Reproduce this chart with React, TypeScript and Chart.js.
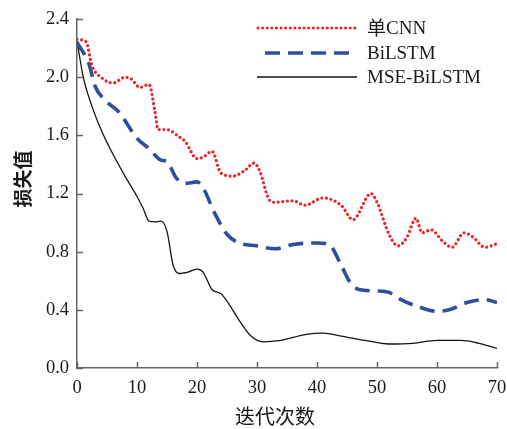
import React, { useEffect, useRef } from "react";
import { Chart, registerables } from "chart.js";

Chart.register(...registerables);

// Iterations and loss values
const cnnIter = [0, 1.5, 2.5, 4, 6, 8, 9, 10.5, 12, 13, 13.5, 15, 17, 18, 20, 21, 22.5, 24, 26, 28, 29.5, 30.5, 32, 33, 36, 38, 41, 44, 46, 49, 50, 52, 53.5, 55, 56.5, 57.5, 59, 61, 62.5, 64.5, 66, 68, 70];
const cnnLoss = [2.26, 2.245, 2.08, 2.0, 1.96, 2.0, 1.99, 1.93, 1.95, 1.76, 1.64, 1.64, 1.59, 1.56, 1.44, 1.45, 1.49, 1.34, 1.32, 1.36, 1.41, 1.35, 1.16, 1.14, 1.15, 1.12, 1.17, 1.12, 1.02, 1.2, 1.14, 0.92, 0.84, 0.9, 1.03, 0.93, 0.95, 0.87, 0.83, 0.93, 0.9, 0.83, 0.855];

const bilstmIter = [0, 2, 3, 5, 7, 10, 12, 14, 15, 16.5, 18, 20, 21, 23, 25, 27, 30, 33, 36, 40, 42, 44, 45.5, 47, 50, 52, 54, 57, 60, 62, 65, 68, 70];
const bilstmLoss = [2.24, 2.09, 1.94, 1.83, 1.76, 1.58, 1.51, 1.43, 1.42, 1.31, 1.27, 1.28, 1.24, 1.06, 0.92, 0.86, 0.84, 0.82, 0.85, 0.86, 0.85, 0.71, 0.59, 0.54, 0.53, 0.52, 0.47, 0.42, 0.39, 0.4, 0.45, 0.47, 0.45];

const mseIter = [0, 1, 2, 4, 6, 8, 10, 11, 12, 13, 14, 15, 16, 17, 18.5, 20, 21, 22.5, 24, 25, 27, 29, 31, 34, 38, 41, 44, 48, 52, 56, 60, 64, 67, 70];
const mseLoss = [2.25, 2.01, 1.86, 1.64, 1.47, 1.32, 1.18, 1.1, 1.01, 1.005, 1.01, 0.94, 0.71, 0.65, 0.66, 0.68, 0.66, 0.54, 0.51, 0.46, 0.33, 0.22, 0.18, 0.19, 0.23, 0.24, 0.22, 0.19, 0.165, 0.17, 0.19, 0.19, 0.17, 0.135];

const seriesNames = ["单CNN", "BiLSTM", "MSE-BiLSTM"];
const xTicks = [0, 10, 20, 30, 40, 50, 60, 70];
const yTicks = [0, 0.4, 0.8, 1.2, 1.6, 2.0, 2.4];

const xTitle = "迭代次数";
const yTitle = "损失值";

const RED = "#e52a2f";
const BLUE = "#2f4ea0";
const BLACK = "#151515";

const serif = "'Liberation Serif', 'Times New Roman', serif";
const cjk = "'Noto Sans CJK SC', sans-serif";

const toPoints = (xs: number[], ys: number[]) => xs.map((x, i) => ({ x, y: ys[i] }));

export default function App() {
  const ref = useRef<HTMLCanvasElement | null>(null);

  useEffect(() => {
    if (!ref.current) return;

    const styles = [
      { color: RED, width: 3.2, dash: [0.01, 4.6], cap: "round" as CanvasLineCap },
      { color: BLUE, width: 3.6, dash: [15, 8], cap: "butt" as CanvasLineCap },
      { color: BLACK, width: 1.3, dash: [] as number[], cap: "butt" as CanvasLineCap },
    ];

    const extras = {
      id: "extras",
      afterDatasetsDraw(chart: any) {
        const { ctx, chartArea, scales } = chart;
        const xs = scales.x;
        const ys = scales.y;
        ctx.save();
        // inward tick marks
        ctx.strokeStyle = "#666";
        ctx.lineWidth = 1.5;
        ctx.beginPath();
        xTicks.forEach((v) => {
          const px = Math.round(xs.getPixelForValue(v)) + 0.5;
          ctx.moveTo(px, chartArea.bottom);
          ctx.lineTo(px, chartArea.bottom - 6);
        });
        yTicks.forEach((v) => {
          const py = Math.round(ys.getPixelForValue(v)) + 0.5;
          ctx.moveTo(chartArea.left, py);
          ctx.lineTo(chartArea.left + 6, py);
        });
        ctx.stroke();

        // axis titles
        ctx.fillStyle = "#1a1a1a";
        ctx.textAlign = "center";
        ctx.textBaseline = "middle";
        ctx.font = `normal 20px ${cjk}`;
        ctx.fillText(xTitle, 275, 416);
        ctx.save();
        ctx.translate(22.5, 179);
        ctx.rotate(-Math.PI / 2);
        ctx.font = `bold 19px ${cjk}`;
        ctx.fillText(yTitle, 0, 0);
        ctx.restore();

        // legend
        const rows = [28, 53, 77];
        const starts = [258, 265, 257];
        rows.forEach((y, i) => {
          const s = styles[i];
          ctx.beginPath();
          ctx.strokeStyle = s.color;
          ctx.lineWidth = s.width;
          ctx.lineCap = s.cap;
          ctx.setLineDash(s.dash);
          ctx.moveTo(starts[i], y);
          ctx.lineTo(357, y);
          ctx.stroke();
          ctx.setLineDash([]);
          ctx.lineCap = "butt";
          ctx.fillStyle = "#1a1a1a";
          ctx.textBaseline = "middle";
          ctx.textAlign = "left";
          const name = seriesNames[i];
          if (name.startsWith("单")) {
            ctx.font = `19px ${cjk}`;
            ctx.fillText("单", 367, y);
            const w = ctx.measureText("单").width;
            ctx.font = `19px ${serif}`;
            ctx.fillText(name.slice(1), 367 + w, y + 1);
          } else {
            ctx.font = `19px ${serif}`;
            ctx.fillText(name, 367, y + 1);
          }
        });
        ctx.restore();
      },
    };

    const chart = new Chart(ref.current, {
      type: "line",
      data: {
        datasets: [
          { label: seriesNames[0], data: toPoints(cnnIter, cnnLoss) },
          { label: seriesNames[1], data: toPoints(bilstmIter, bilstmLoss) },
          { label: seriesNames[2], data: toPoints(mseIter, mseLoss) },
        ].map((d, i) => ({
          ...d,
          borderColor: styles[i].color,
          borderWidth: styles[i].width,
          borderDash: styles[i].dash,
          borderCapStyle: styles[i].cap,
          pointRadius: 0,
          fill: false,
          cubicInterpolationMode: "monotone" as const,
        })),
      },
      options: {
        responsive: false,
        animation: false,
        layout: { padding: { top: 17, right: 10, left: 0, bottom: 0 } },
        plugins: { legend: { display: false }, tooltip: { enabled: false } },
        scales: {
          x: {
            type: "linear",
            min: 0,
            max: 70,
            afterFit: (s: any) => {
              s.height = 61;
              s.paddingLeft = 0;
              s.paddingRight = 0;
            },
            afterBuildTicks: (s: any) => {
              s.ticks = xTicks.map((v) => ({ value: v }));
            },
            grid: { display: true, drawOnChartArea: false, drawTicks: false },
            border: { display: true, color: "#666", width: 1.5 },
            ticks: {
              padding: 9,
              color: "#1a1a1a",
              font: { family: serif, size: 18.5 },
              maxRotation: 0,
              callback: (v: any) => String(v),
            },
          },
          y: {
            type: "linear",
            min: 0,
            max: 2.4,
            afterFit: (s: any) => {
              s.width = 77;
            },
            afterBuildTicks: (s: any) => {
              s.ticks = yTicks.map((v) => ({ value: v }));
            },
            grid: { display: true, drawOnChartArea: false, drawTicks: false },
            border: { display: true, color: "#666", width: 1.5 },
            ticks: {
              padding: 8,
              color: "#1a1a1a",
              font: { family: serif, size: 18.5 },
              callback: (v: any) => Number(v).toFixed(1),
            },
          },
        },
      },
      plugins: [extras],
    });

    return () => chart.destroy();
  }, []);

  return (
    <div style={{ position: "absolute", left: 0, top: 0, width: 507, height: 429, background: "#fff" }}>
      <canvas ref={ref} width={507} height={429} style={{ display: "block" }} />
    </div>
  );
}
